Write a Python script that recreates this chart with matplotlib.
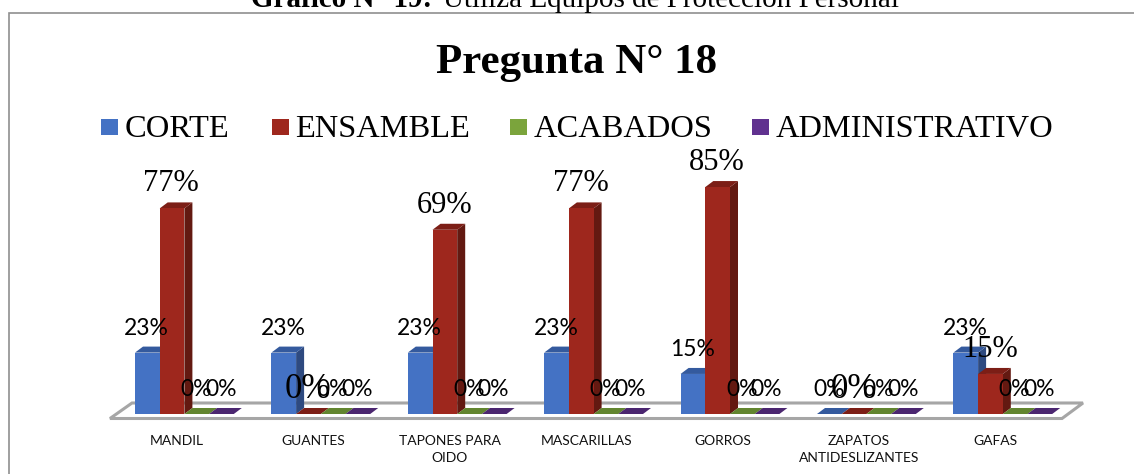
import matplotlib
matplotlib.use("Agg")
import matplotlib.pyplot as plt
from matplotlib.patches import Polygon, Rectangle

categories = ["MANDIL", "GUANTES", "TAPONES PARA\nOIDO", "MASCARILLAS", "GORROS",
              "ZAPATOS\nANTIDESLIZANTES", "GAFAS"]
corte = [23, 23, 23, 23, 15, 0, 23]
ensamble = [77, 0, 69, 77, 85, 0, 15]
acabados = [0, 0, 0, 0, 0, 0, 0]
administrativo = [0, 0, 0, 0, 0, 0, 0]
series_names = ["CORTE", "ENSAMBLE", "ACABADOS", "ADMINISTRATIVO"]
series_values = [corte, ensamble, acabados, administrativo]
front = ["#4472c4", "#9e271d", "#7ba43c", "#60318f"]
top = ["#345a9e", "#7c1e16", "#62852f", "#4b2670"]
side = ["#2e4a80", "#631911", "#4f6b25", "#3c1e5a"]

W, H = 1134, 474
SERIF = "Liberation Serif"
SANS = "Lato"

fig = plt.figure(figsize=(W / 100, H / 100), dpi=100)
fig.patch.set_facecolor("white")

# 136.4 px per group, 2.67 px per percent, zero line at y=414
px_x = 136.4
px_y = 2.67
bottom_px, top_px = 418.0, 12.0
ax = fig.add_axes([0, (H - bottom_px) / H, 1, (bottom_px - top_px) / H])
ax.set_xlim(-185 / px_x, (W - 185) / px_x)
ax.set_ylim((414 - bottom_px) / px_y, (414 - top_px) / px_y)
ax.patch.set_visible(False)
for s in ax.spines.values():
    s.set_visible(False)
ax.set_yticks([])
ax.set_xticks([i - 8 / px_x for i in range(len(categories))])
ax.set_xticklabels(categories, fontfamily=SANS, fontsize=10, color="#111111", linespacing=1.55)
ax.tick_params(axis="x", length=0, pad=12)

# chart frame, the right side runs off the picture
fig.add_artist(Rectangle((8.5 / W, -0.05), 1.05, (H - 12.5) / H + 0.05, transform=fig.transFigure,
                         fc="none", ec="#8f8f8f", lw=1.2))

# floor of the 3d chart
fx = lambda px: (px - 185) / px_x
fy = lambda px: (414 - px) / px_y
ax.add_patch(Polygon([(fx(110), fy(418.5)), (fx(132), fy(403)), (fx(1083), fy(403)), (fx(1062), fy(418.5))],
                     closed=True, fc="white", ec="#a6a6a6", lw=2.2, clip_on=False, zorder=1))

bw = 24.7 / px_x
dx = 8 / px_x
dy = 6 / px_y
group_left = -50 / px_x

label_font = {}  # (series, group) -> (family, size)
for g in [0, 2, 3, 4, 6]:
    label_font[(1, g)] = (SERIF, 22)
label_font[(1, 1)] = (SERIF, 25)
label_font[(1, 5)] = (SERIF, 25)

for s, vals in enumerate(series_values):
    for g, v in enumerate(vals):
        x0 = g + group_left + s * bw
        x1 = x0 + bw
        z = 2 + s
        ax.add_patch(Polygon([(x1, 0), (x1 + dx, dy), (x1 + dx, v + dy), (x1, v)], fc=side[s], ec="none", zorder=z))
        ax.add_patch(Polygon([(x0, v), (x0 + dx, v + dy), (x1 + dx, v + dy), (x1, v)], fc=top[s], ec="none", zorder=z))
        if v > 0:
            ax.add_patch(Rectangle((x0, 0), bw, v, fc=front[s], ec="none", zorder=z + 0.1))
        fam, size = label_font.get((s, g), (SANS, 16.5))
        ax.annotate(f"{v}%", (x0 + bw / 2, v), xytext=(-0.5, 17.7), textcoords="offset points",
                    ha="center", va="center", family=fam, fontsize=size, color="black", zorder=10)

# title + legend
fig.text(576 / W, 1 - 62.5 / H, "Pregunta N° 18", family=SERIF, fontsize=30.9, fontweight="bold",
         ha="center", va="center", color="black")
legend_swatch_px = [101, 272, 510, 752]
for px, name, c in zip(legend_swatch_px, series_names, front):
    fig.add_artist(Rectangle((px / W, 1 - 135 / H), 17 / W, 16 / H, transform=fig.transFigure, fc=c, ec="none"))
    fig.text((px + 23.5) / W, 1 - 129.5 / H, name, family=SERIF, fontsize=23.4, ha="left", va="center", color="black")

# caption cut by the top edge
fig.text(251 / W, 1 - 7 / H, "Gráfico N° 19:", family=SERIF, fontsize=21, fontweight="bold",
         ha="left", va="baseline", color="black")
fig.text(443 / W, 1 - 7 / H, "Utiliza Equipos de Protección Personal", family=SERIF, fontsize=21,
         ha="left", va="baseline", color="black")

fig.savefig("out.png", dpi=100)
